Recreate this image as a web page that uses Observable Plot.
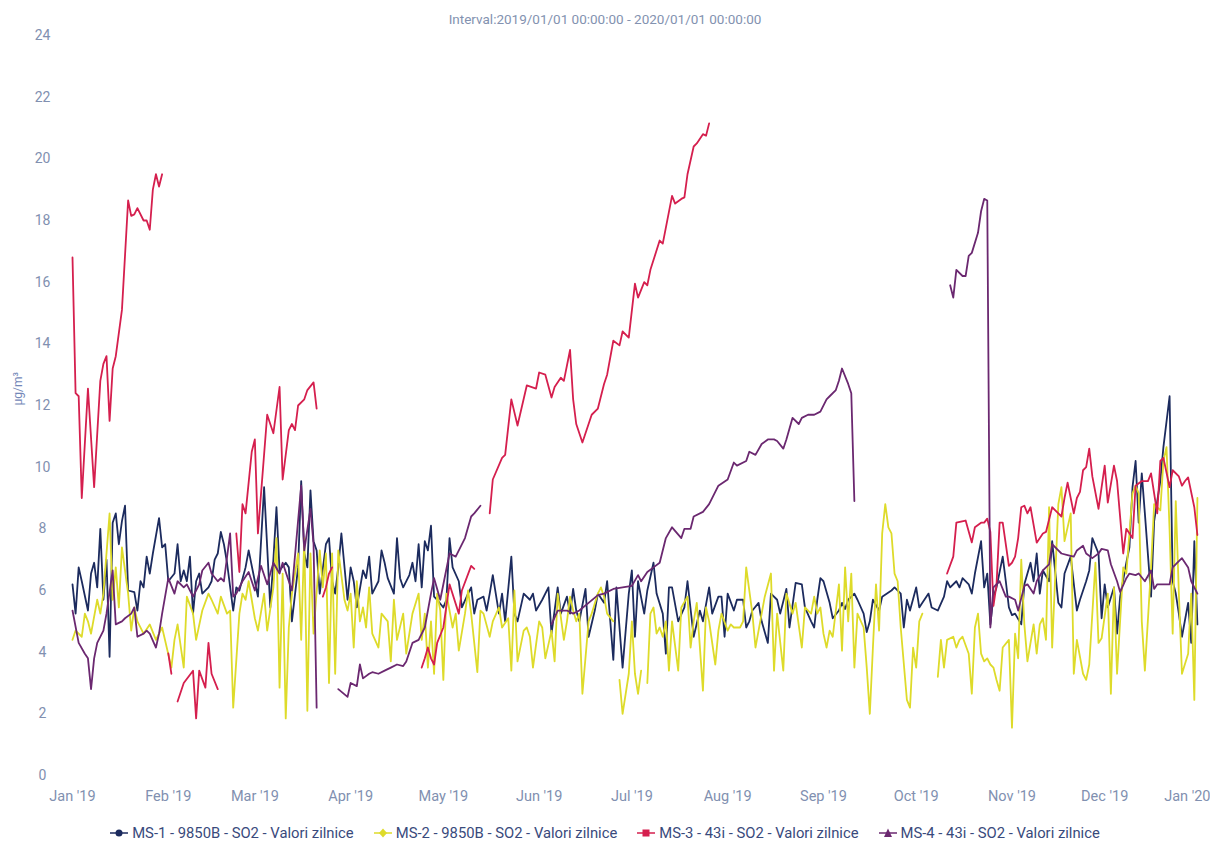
<!DOCTYPE html>
<html><head><meta charset="utf-8">
<script src="https://cdn.jsdelivr.net/npm/d3@7"></script>
<script src="https://cdn.jsdelivr.net/npm/@observablehq/plot@0.6"></script>
<style>
body{margin:0;background:#fff;font-family:Roboto,"Liberation Sans",sans-serif;}
#title{height:28px;box-sizing:border-box;padding-top:11px;font-size:13.5px;line-height:16px;text-align:center;color:#8392b0;}
#legend{height:30px;box-sizing:border-box;padding-top:6px;display:flex;justify-content:center;align-items:center;gap:20px;font-size:14.8px;color:#394a7c;}
.item{display:flex;align-items:center;gap:4px;white-space:nowrap;}
</style></head><body>
<div id="title"></div>
<div id="chart"></div>
<div id="legend"></div>
<script>
const titleText = "Interval:2019/01/01 00:00:00 - 2020/01/01 00:00:00";
const yLabel = "µg/m³";
const seriesNames = ["MS-1 - 9850B - SO2 - Valori zilnice","MS-2 - 9850B - SO2 - Valori zilnice","MS-3 - 43i - SO2 - Valori zilnice","MS-4 - 43i - SO2 - Valori zilnice"];
const seriesColors = ["#1c2b5e","#dedb2a","#d51f4e","#6b2870"];
const seriesMarkers = ["circle","diamond","square","triangle"];
const monthLabels = ["Jan '19","Feb '19","Mar '19","Apr '19","May '19","Jun '19","Jul '19","Aug '19","Sep '19","Oct '19","Nov '19","Dec '19","Jan '20"];
const yTicks = [0,2,4,6,8,10,12,14,16,18,20,22,24];

// [day of 2019 (0 = Jan 1), value]; null = no data
const ms1 = [[0,6.2],[1,5.25],[2,6.75],[3,6.3],[5,5.35],[6,6.55],[7,6.9],[8,6.1],[9,8.0],[10,5.7],[11,7.0],[12,3.85],[13,8.2],[14,8.5],[15,7.5],[16,8.25],[17,8.75],[18,6.0],[20,5.95],[21,5.35],[22,6.3],[23,6.1],[24,7.1],[25,6.55],[26,7.2],[28,8.35],[29,7.4],[30,7.5],[31,6.3],[33,6.55],[34,7.5],[35,6.3],[36,6.65],[37,6.3],[38,7.1],[39,5.25],[40,6.3],[41,6.55],[42,5.9],[44,6.1],[45,6.3],[46,7.0],[47,7.2],[48,7.9],[49,7.5],[50,6.9],[52,5.35],[53,6.1],[54,6.0],[56,6.75],[57,7.3],[59,6.3],[60,5.8],[62,9.35],[64,5.45],[65,7.0],[66,8.7],[67,6.65],[69,6.9],[70,6.75],[71,5.0],[73,6.75],[74,9.55],[75,7.2],[76,6.75],[77,9.25],[78,7.6],[79,7.3],[80,5.9],[82,7.5],[83,7.7],[84,6.3],[85,5.9],[86,6.75],[87,7.85],[89,5.7],[90,6.75],[91,6.3],[92,5.45],[94,6.65],[95,6.4],[96,7.1],[97,5.9],[99,6.3],[100,7.3],[101,6.9],[102,6.4],[104,5.9],[105,7.7],[106,6.4],[107,6.1],[109,6.5],[110,6.9],[111,6.3],[112,7.5],[113,6.1],[114,7.6],[115,7.3],[116,8.1],[117,5.8],[118,5.7],[120,5.45],[121,5.7],[122,7.7],[123,6.75],[125,6.3],[126,5.45],[128,5.9],[129,6.1],[130,5.25],[131,5.7],[133,5.8],[134,5.35],[135,5.9],[136,6.5],[138,5.25],[139,5.9],[140,5.0],[142,7.1],[143,5.25],[144,5.0],[146,5.9],[148,5.7],[149,5.9],[150,5.35],[152,5.7],[154,6.1],[155,4.6],[157,6.1],[158,5.25],[160,5.8],[161,5.25],[162,6.05],[163,5.35],[164,5.0],[166,6.05],[167,4.5],[169,5.35],[170,5.9],[172,5.6],[173,6.3],[175,3.75],[176,6.1],[178,3.5],[180,5.9],[181,6.65],[182,4.5],[183,6.3],[185,5.25],[186,6.0],[188,6.9],[189,5.9],[191,5.25],[192,3.95],[193,6.1],[194,6.1],[196,5.0],[198,5.45],[199,6.3],[201,4.5],[203,5.35],[204,5.0],[206,6.1],[207,5.25],[209,5.8],[210,5.8],[211,4.5],[212,5.9],[214,5.35],[215,5.7],[217,5.7],[218,4.8],[219,5.0],[220,5.35],[222,5.6],[223,5.0],[225,4.3],[226,5.9],[228,5.7],[229,5.25],[231,6.05],[232,4.8],[234,6.25],[236,6.2],[237,5.45],[239,5.0],[240,4.8],[241,5.7],[242,6.4],[243,6.3],[245,5.6],[246,5.1],[248,5.35],[249,5.6],[250,5.4],[251,5.7],[253,5.9],[254,5.7],[256,5.25],[257,4.65],[258,5.0],[259,5.7],[261,5.35],[262,5.8],[265,6.0],[266,6.1],[268,5.9],[269,4.8],[270,5.7],[271,5.35],[273,6.1],[274,5.45],[275,5.6],[277,5.9],[278,5.45],[280,5.35],[282,5.8],[283,6.3],[284,6.1],[286,6.3],[287,6.1],[288,6.4],[290,6.2],[291,5.9],[292,6.55],[294,7.6],[295,6.1],[296,6.55],[297,4.9],[298,5.8],[299,6.1],[301,7.1],[302,6.3],[303,5.45],[304,5.2],[305,5.25],[307,4.9],[308,6.2],[310,6.9],[311,6.3],[312,7.2],[313,5.9],[314,6.65],[316,6.3],[317,7.6],[319,5.6],[320,5.45],[321,6.55],[323,7.1],[325,5.35],[326,5.7],[328,6.3],[329,6.65],[330,7.7],[332,7.2],[333,5.1],[334,6.2],[335,5.45],[337,6.1],[338,4.6],[339,5.8],[341,6.9],[342,7.4],[343,9.35],[344,10.2],[345,8.2],[346,9.8],[347,8.5],[349,5.8],[350,8.25],[352,9.55],[353,10.65],[355,12.3],[356,6.3],[357,5.9],[358,5.25],[359,4.5],[361,5.6],[362,4.3],[363,7.6],[364,4.9]];

const ms2 = [[0,4.4],[1,4.7],[3,4.5],[4,5.25],[5,5.0],[6,4.6],[8,5.7],[9,5.25],[10,5.9],[12,8.5],[13,5.7],[14,6.75],[15,5.45],[16,7.4],[18,5.9],[19,4.7],[20,5.45],[21,5.0],[23,4.6],[25,4.9],[27,4.4],[29,4.8],[32,3.5],[33,4.4],[34,4.9],[36,3.5],[37,5.8],[39,5.25],[40,4.4],[42,5.35],[44,5.9],[45,5.7],[47,5.25],[48,5.8],[50,5.25],[51,5.35],[52,2.2],[54,5.25],[55,5.9],[56,5.7],[57,6.3],[59,5.1],[60,4.7],[62,5.9],[63,4.7],[65,6.1],[66,7.7],[67,2.85],[68,6.55],[69,1.85],[70,4.8],[71,5.9],[73,7.2],[74,4.4],[75,7.7],[76,2.1],[77,7.2],[78,4.6],[80,7.3],[81,6.1],[82,7.2],[83,3.0],[84,7.2],[85,3.3],[86,7.3],[88,5.7],[89,5.35],[90,5.9],[91,4.15],[92,6.3],[93,5.0],[94,5.45],[95,4.8],[96,6.1],[97,4.6],[99,4.15],[100,5.25],[102,5.0],[103,3.7],[104,5.7],[105,4.4],[107,5.25],[108,3.95],[110,5.25],[112,5.9],[113,4.4],[114,5.25],[115,3.5],[116,5.0],[117,3.3],[118,5.9],[119,5.35],[120,3.1],[121,5.9],[123,4.8],[124,5.25],[125,4.05],[127,5.25],[128,6.0],[129,5.25],[131,3.35],[132,5.35],[133,5.25],[135,4.5],[136,5.0],[138,5.45],[139,4.8],[141,5.1],[142,3.4],[143,6.0],[144,3.7],[146,4.7],[147,4.8],[148,4.5],[149,3.5],[151,5.0],[152,4.8],[153,3.8],[155,4.7],[156,3.7],[157,5.9],[159,4.4],[160,5.0],[161,5.8],[162,5.35],[163,5.0],[164,5.25],[165,2.65],[167,5.0],[168,5.25],[170,5.9],[171,6.1],[172,5.8],[173,5.25],[175,5.0],[176,null],[177,3.1],[178,2.0],[180,3.3],[181,5.0],[182,3.3],[183,2.65],[184,3.4],[185,null],[186,3.0],[187,5.25],[188,5.45],[189,4.6],[190,4.8],[191,4.5],[192,5.0],[193,3.4],[194,5.0],[196,3.4],[197,5.45],[199,5.8],[200,4.15],[201,5.0],[202,5.6],[204,2.75],[205,5.45],[206,5.0],[208,3.6],[209,4.7],[210,5.25],[212,4.7],[213,4.9],[214,4.8],[216,4.8],[217,5.0],[218,6.75],[220,5.25],[221,4.15],[223,5.25],[224,5.8],[226,6.55],[227,3.4],[228,5.25],[230,3.4],[231,5.9],[233,5.25],[234,5.6],[236,4.15],[237,5.45],[239,5.25],[240,5.8],[241,5.25],[242,5.45],[243,4.6],[244,4.15],[245,4.7],[246,4.5],[248,6.2],[249,4.05],[250,6.75],[251,5.0],[252,6.55],[253,3.5],[254,5.25],[256,4.8],[257,3.5],[258,2.0],[259,4.15],[260,6.2],[261,4.7],[262,7.85],[263,8.8],[264,8.05],[265,7.85],[266,6.55],[267,6.3],[268,4.8],[270,2.45],[271,2.2],[272,4.15],[273,3.5],[274,5.0],[275,5.25],[276,null],[280,3.2],[281,4.4],[282,3.5],[283,4.4],[285,4.5],[286,4.15],[287,4.4],[288,4.5],[290,3.95],[291,2.65],[292,4.8],[293,5.25],[294,3.95],[295,3.7],[296,3.8],[297,3.6],[298,3.5],[299,3.1],[300,2.75],[301,4.15],[303,4.4],[304,1.55],[305,4.6],[306,3.8],[307,7.0],[308,4.9],[309,3.7],[311,4.9],[312,3.95],[313,4.9],[314,5.1],[315,4.4],[316,8.7],[317,4.15],[319,8.8],[320,9.35],[321,7.6],[323,8.5],[324,3.3],[325,4.4],[327,3.3],[328,3.1],[329,3.6],[331,6.9],[332,4.3],[333,4.45],[335,5.9],[336,2.65],[337,6.1],[338,3.3],[340,6.75],[341,6.55],[343,9.15],[344,9.4],[345,9.15],[346,5.0],[347,3.4],[349,6.75],[350,8.8],[352,8.6],[353,10.2],[354,10.65],[355,7.95],[356,4.6],[357,8.9],[358,5.9],[359,3.3],[361,3.95],[362,5.9],[363,2.45],[364,9.0]];

const ms3 = [[0,16.8],[1,12.4],[2,12.3],[3,9.0],[5,12.55],[7,9.35],[9,12.8],[10,13.35],[11,13.6],[12,11.5],[13,13.2],[14,13.6],[16,15.1],[18,18.65],[19,18.15],[20,18.2],[21,18.4],[23,18.0],[24,18.0],[25,17.7],[26,19.0],[27,19.5],[28,19.1],[29,19.5],[30,null],[31,3.96],[32,3.3],[33,null],[34,2.4],[36,3.0],[39,3.4],[40,1.85],[41,3.4],[43,2.85],[44,4.3],[45,3.3],[47,2.8],[48,null],[53,7.85],[54,6.6],[55,8.8],[56,8.5],[58,10.5],[59,10.9],[60,7.85],[63,11.7],[65,11.1],[67,12.6],[68,9.6],[70,11.2],[71,11.4],[72,11.2],[73,12.0],[75,12.2],[76,12.5],[78,12.75],[79,11.9],[80,null],[81,5.8],[82,6.1],[83,6.55],[84,6.75],[85,null],[113,3.5],[114,3.8],[115,4.15],[116,3.8],[117,3.6],[118,4.3],[120,4.8],[122,6.2],[125,5.25],[126,6.0],[129,6.8],[130,6.7],[131,null],[135,8.5],[136,9.6],[139,10.3],[140,10.4],[142,12.2],[144,11.35],[147,12.65],[150,12.55],[151,13.07],[153,13.0],[155,12.26],[156,12.6],[158,12.9],[159,12.8],[161,13.8],[162,12.2],[163,11.4],[165,10.8],[168,11.7],[170,11.9],[172,12.7],[173,13.0],[175,14.1],[177,13.95],[178,14.4],[180,14.2],[182,15.95],[183,15.5],[185,16.0],[186,15.9],[187,16.4],[190,17.35],[191,17.25],[194,18.8],[195,18.55],[197,18.7],[198,18.75],[199,19.5],[201,20.4],[202,20.5],[204,20.8],[205,20.75],[206,21.15],[207,null],[283,6.55],[285,7.1],[286,8.2],[289,8.27],[291,7.56],[292,8.05],[294,8.2],[295,8.2],[296,8.33],[297,7.9],[298,5.5],[299,6.2],[300,8.2],[301,8.2],[303,6.8],[304,6.9],[305,7.1],[306,7.7],[307,8.7],[308,8.75],[309,8.5],[310,8.7],[312,7.55],[314,7.85],[315,7.9],[317,8.7],[319,8.5],[320,8.4],[321,9.0],[322,9.5],[324,8.5],[325,9.0],[326,9.2],[327,9.9],[328,10.0],[329,10.6],[330,9.7],[332,8.65],[334,10.05],[335,8.85],[337,10.05],[338,9.55],[340,7.2],[341,8.0],[343,7.7],[344,9.4],[346,9.55],[348,9.55],[349,9.8],[351,8.5],[352,10.2],[353,10.3],[355,9.35],[356,9.9],[358,9.7],[359,9.4],[360,9.55],[361,9.67],[363,8.7],[364,7.8]];

const ms4 = [[0,5.35],[2,4.3],[4,3.95],[5,3.8],[6,2.8],[7,3.8],[8,4.3],[10,4.7],[11,5.25],[13,6.65],[14,4.9],[16,5.0],[17,5.1],[19,5.25],[20,5.45],[21,4.5],[23,4.6],[24,4.7],[25,4.6],[27,4.15],[28,4.6],[29,5.25],[31,6.4],[33,5.9],[34,6.3],[36,6.1],[37,6.2],[39,5.8],[41,6.2],[42,6.65],[44,6.9],[45,6.55],[47,6.3],[48,6.4],[49,6.3],[51,7.85],[52,5.8],[53,5.9],[55,6.3],[57,6.6],[59,6.0],[61,6.8],[63,6.2],[65,6.9],[67,6.55],[68,6.9],[71,6.0],[74,9.4],[75,7.3],[77,8.65],[78,7.5],[79,2.2],[80,null],[86,2.8],[89,2.55],[90,3.0],[92,2.9],[93,3.6],[94,3.15],[96,3.3],[97,3.35],[99,3.3],[101,3.4],[103,3.5],[105,3.6],[107,3.55],[108,3.7],[110,4.3],[112,4.4],[114,4.8],[116,5.9],[117,6.4],[119,5.7],[122,7.2],[124,7.1],[127,7.7],[129,8.4],[130,8.5],[132,8.75],[133,null],[155,4.9],[157,5.35],[160,5.35],[162,5.25],[164,5.35],[167,5.6],[170,5.85],[172,5.9],[175,6.05],[178,6.1],[181,6.15],[183,6.5],[184,6.3],[186,6.6],[188,6.75],[190,6.9],[192,7.7],[194,8.05],[197,7.7],[198,8.0],[200,8.0],[201,8.4],[204,8.55],[206,8.8],[209,9.4],[212,9.6],[214,10.15],[215,10.05],[218,10.2],[219,10.5],[221,10.4],[223,10.75],[225,10.9],[227,10.9],[228,10.85],[230,10.6],[231,10.9],[233,11.6],[235,11.4],[236,11.6],[238,11.7],[240,11.7],[242,11.8],[244,12.2],[245,12.3],[247,12.5],[248,12.8],[249,13.2],[251,12.7],[252,12.4],[253,8.9],[254,null],[284,15.9],[285,15.5],[286,16.4],[288,16.2],[289,16.2],[290,16.85],[291,16.95],[293,17.6],[294,18.3],[295,18.7],[296,18.65],[297,4.8],[298,6.1],[300,6.3],[302,5.8],[303,5.8],[305,5.7],[306,5.35],[308,6.15],[309,6.2],[311,5.9],[312,6.3],[314,6.65],[316,6.85],[317,7.5],[319,7.3],[320,7.2],[322,7.15],[324,7.1],[325,7.3],[327,7.45],[328,7.2],[330,7.05],[332,7.2],[333,7.35],[335,7.3],[336,6.85],[338,6.3],[339,5.95],[341,6.4],[342,6.55],[344,6.5],[345,6.55],[347,6.3],[349,6.65],[350,6.05],[351,6.2],[353,6.2],[355,6.2],[356,6.75],[358,6.95],[359,7.05],[361,6.75],[362,6.3],[364,5.9]];

const start = Date.UTC(2019, 0, 1);
const toRows = (arr, name) => arr.map(([d, v]) => ({date: new Date(start + d * 864e5), value: v, series: name}));
const data = [ms1, ms2, ms3, ms4].flatMap((a, i) => toRows(a, seriesNames[i]));
const monthTicks = monthLabels.map((_, i) => new Date(Date.UTC(2019, i, 1)));
const monthFmt = d => monthLabels[d.getUTCMonth() + 12 * (d.getUTCFullYear() - 2019)];

document.getElementById("title").textContent = titleText;

const chart = Plot.plot({
  width: 1210, height: 787,
  marginTop: 7, marginBottom: 40, marginLeft: 72, marginRight: 10,
  style: {fontFamily: "Roboto, sans-serif", fontSize: "14px", color: "#8190b0", background: "#fff", overflow: "visible"},
  x: {type: "utc", domain: [new Date(start), new Date(Date.UTC(2020, 0, 1))]},
  y: {domain: [0, 24]},
  color: {domain: seriesNames, range: seriesColors},
  marks: [
    Plot.axisX({ticks: monthTicks.slice(0, -1), tickFormat: monthFmt, tickSize: 0, tickPadding: 15, label: null, fontSize: 14.5}),
    Plot.axisX({ticks: monthTicks.slice(-1), tickFormat: monthFmt, tickSize: 0, tickPadding: 15, label: null, fontSize: 14.5, textAnchor: "end", dx: 10}),
    Plot.axisY({ticks: yTicks, tickSize: 0, tickPadding: 30, textAnchor: "middle", label: null, fontSize: 14}),
    Plot.text([yLabel], {text: d => d, frameAnchor: "left", dx: -54, rotate: -90, fill: "#7387b8", fontSize: 12}),
    Plot.line(data, {x: "date", y: "value", z: "series", stroke: "series", strokeWidth: 1.8, curve: "linear"})
  ]
});
document.getElementById("chart").appendChild(chart);

const legend = document.getElementById("legend");
seriesNames.forEach((name, i) => {
  const c = seriesColors[i];
  let m;
  if (seriesMarkers[i] === "circle") m = `<circle cx="9" cy="6" r="3.5" fill="${c}"/>`;
  else if (seriesMarkers[i] === "diamond") m = `<path d="M9 1.5 L13 6 L9 10.5 L5 6 Z" fill="${c}"/>`;
  else if (seriesMarkers[i] === "square") m = `<rect x="5.5" y="2.5" width="7" height="7" fill="${c}"/>`;
  else m = `<path d="M9 1.5 L13 10 L5 10 Z" fill="${c}"/>`;
  const el = document.createElement("div");
  el.className = "item";
  el.innerHTML = `<svg width="18" height="12"><line x1="0" y1="6" x2="18" y2="6" stroke="${c}" stroke-width="1.5"/>${m}</svg><span>${name}</span>`;
  legend.appendChild(el);
});
</script>
</body></html>
